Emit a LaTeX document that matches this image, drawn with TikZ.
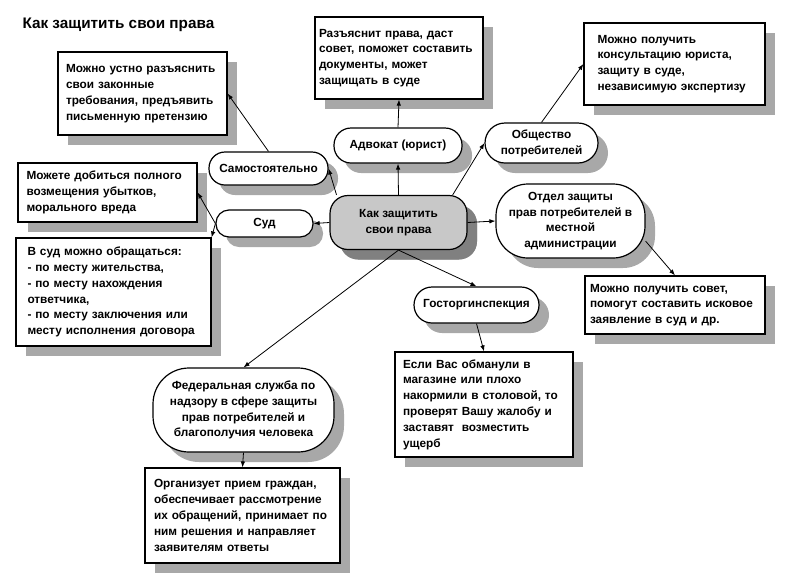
\documentclass[tikz,border=0pt]{standalone}
\usepackage{fontspec}
\setmainfont{Liberation Sans}
\usepackage{xcolor}
\usetikzlibrary{shapes,arrows.meta,positioning,shadows}
\definecolor{shadowgray}{RGB}{168, 168, 168}
\definecolor{mainfill}{RGB}{200, 200, 200}
\definecolor{maingray}{RGB}{128, 128, 128}

\tikzset{
  textfont/.style={font=\fontsize{11.8}{15.8}\selectfont\bfseries},
  infobox/.style={draw, line width=1.2pt, fill=white, textfont, align=left, inner sep=0pt,
    drop shadow={shadow xshift=10pt, shadow yshift=-10pt, fill=shadowgray, opacity=1}},
  pill/.style={draw, line width=1.2pt, fill=white, textfont, align=center, inner sep=0pt,
    rounded corners=#1,
    drop shadow={shadow xshift=10pt, shadow yshift=-10pt, fill=shadowgray, opacity=1}},
  pill/.default=16pt,
  conn/.style={->, line width=0.8pt}
}

\begin{document}
\begin{tikzpicture}[x=1pt, y=-1pt, >={Latex[length=6pt,width=4.5pt]}]
        \useasboundingbox (0, 0) rectangle (791, 587);
        % Title
        \node[font=\fontsize{15.3}{18}\selectfont\bfseries, anchor=west] (title) at (19, 25) {Как защитить свои права};

        % Central node
        \node[pill=18pt, fill=mainfill, minimum width=137pt, minimum height=54pt,
              drop shadow={shadow xshift=10pt, shadow yshift=-10pt, fill=maingray, opacity=1}]
              (main) at (398.5, 222.5) {Как защитить\\свои права};

        % Ways to protect rights
        \node[pill=16pt, minimum width=119pt, minimum height=33pt] (self) at (268.5, 168.5) {Самостоятельно};
        \node[pill=17pt, minimum width=128pt, minimum height=35pt] (lawyer) at (398, 145.5) {Адвокат (юрист)};
        \node[pill=20pt, minimum width=113pt, minimum height=40pt] (society) at (541.5, 143) {Общество\\потребителей};
        \node[pill=13pt, minimum width=97pt, minimum height=27pt] (court) at (264.5, 223.5) {Суд};
        \node[pill=32pt, minimum width=149pt, minimum height=74pt] (local) at (570.5, 221) {Отдел защиты\\прав потребителей в\\местной\\администрации};
        \node[pill=18pt, minimum width=125pt, minimum height=36pt] (trade) at (476.5, 305) {Госторгинспекция};
        \node[pill=36pt, minimum width=181pt, minimum height=84pt] (fed) at (243.5, 410) {Федеральная служба по\\надзору в сфере защиты\\прав потребителей и\\благополучия человека};

        % Explanation boxes
        \node[infobox, minimum width=169pt, minimum height=83pt, text width=153pt] (boxSelf) at (142.5, 93.5)
              {Можно устно разъяснить\\свои законные\\требования, предъявить\\письменную претензию};
        \node[infobox, minimum width=168pt, minimum height=82pt, text width=160pt] (boxLawyer) at (399, 58)
              {Разъяснит права, даст\\совет, поможет составить\\документы, может\\защищать в суде};
        \node[infobox, minimum width=181pt, minimum height=82pt, text width=154pt] (boxSociety) at (674.5, 64)
              {Можно получить\\консультацию юриста,\\защиту в суде,\\независимую экспертизу};
        \node[infobox, minimum width=179pt, minimum height=59pt, text width=162pt] (boxCourtA) at (107.5, 192.5)
              {Можете добиться полного\\возмещения убытков,\\морального вреда};
        \node[infobox, minimum width=195pt, minimum height=108pt, text width=172pt] (boxCourtB) at (113.5, 292)
              {В суд можно обращаться:\\- по месту жительства,\\- по месту нахождения\\ответчика,\\- по месту заключения или\\месту исполнения договора};
        \node[infobox, minimum width=180pt, minimum height=58pt, text width=170pt] (boxLocal) at (675, 305)
              {Можно получить совет,\\помогут составить исковое\\заявление в суд и др.};
        \node[infobox, minimum width=178pt, minimum height=105pt, text width=162pt] (boxTrade) at (484, 404.5)
              {Если Вас обманули в\\магазине или плохо\\накормили в столовой, то\\проверят Вашу жалобу и\\заставят\ \ возместить\\ущерб};
        \node[infobox, minimum width=195pt, minimum height=95pt, text width=177pt] (boxFed) at (242.5, 515.5)
              {Организует прием граждан,\\обеспечивает рассмотрение\\их обращений, принимает по\\ним решения и направляет\\заявителям ответы};

        % Connectors from the centre
        \draw[conn] (main.north) -- (lawyer.south);
        \draw[conn] (main.156) -- (self.east);
        \draw[conn] (main.west) -- (court.east);
        \draw[conn] (main.27) -- (society.west);
        \draw[conn] (main.east) -- (local.west);
        \draw[conn] (main.south) -- (trade.north);
        \draw[conn] (main.south) -- (fed.north);

        % Connectors to the explanations
        \draw[conn] (lawyer.north) -- (boxLawyer.south);
        \draw[conn] (self.north) -- (boxSelf.east);
        \draw[conn] (court.west) -- (boxCourtA.east);
        \draw[conn] (court.west) -- (boxCourtB.north east);
        \draw[conn] (society.north) -- (boxSociety.west);
        \draw[conn] (local.-15) -- (boxLocal.north);
        \draw[conn] (trade.south) -- (boxTrade.north);
        \draw[conn] (fed.south) -- (boxFed.north);
    \end{tikzpicture}
\end{document}
